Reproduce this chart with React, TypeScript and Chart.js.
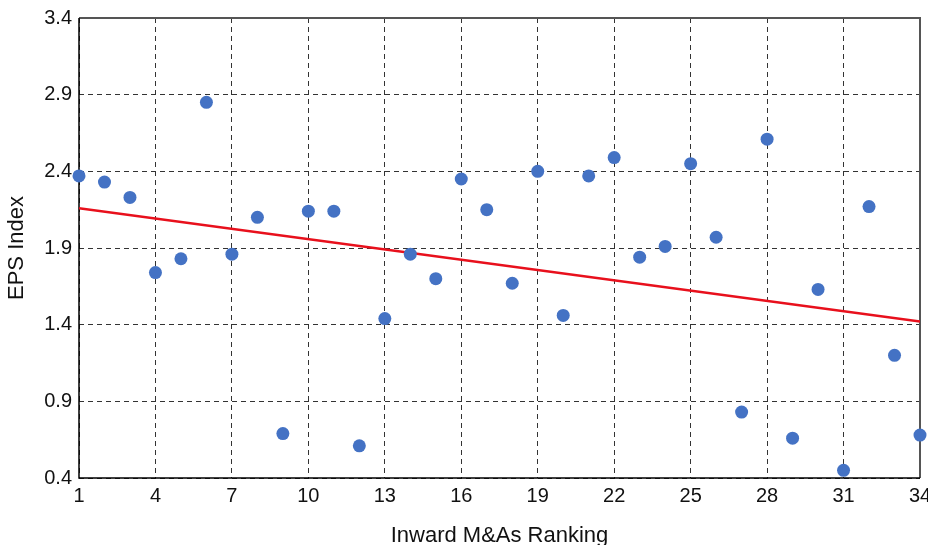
import React, { useEffect, useRef } from "react";
import { Chart, registerables } from "chart.js";

Chart.register(...registerables);

const rankings = [
  1, 2, 3, 4, 5, 6, 7, 8, 9, 10, 11, 12, 13, 14, 15, 16, 17,
  18, 19, 20, 21, 22, 23, 24, 25, 26, 27, 28, 29, 30, 31, 32, 33, 34,
];
const epsIndex = [
  2.37, 2.33, 2.23, 1.74, 1.83, 2.85, 1.86, 2.10, 0.69, 2.14, 2.14, 0.61, 1.44, 1.86, 1.70, 2.35, 2.15,
  1.67, 2.40, 1.46, 2.37, 2.49, 1.84, 1.91, 2.45, 1.97, 0.83, 2.61, 0.66, 1.63, 0.45, 2.17, 1.20, 0.68,
];
const trendX = [1, 34];
const trendY = [2.16, 1.42];
const xTicks = [1, 4, 7, 10, 13, 16, 19, 22, 25, 28, 31, 34];
const yTicks = [0.4, 0.9, 1.4, 1.9, 2.4, 2.9, 3.4];

const FONT = "'Liberation Sans', Arial, Helvetica, sans-serif";
const CANVAS_W = 928;
const CANVAS_H = 560;

const framePlugin = {
  id: "frame",
  beforeDatasetsDraw(chart: any) {
    const { ctx, chartArea } = chart;
    const { left, right, top, bottom } = chartArea;
    ctx.save();
    ctx.setLineDash([]);
    ctx.strokeStyle = "#555";
    ctx.lineWidth = 2;
    ctx.beginPath();
    ctx.moveTo(left, top);
    ctx.lineTo(right, top);
    ctx.lineTo(right, bottom);
    ctx.stroke();
    ctx.strokeStyle = "#000";
    ctx.lineWidth = 1.5;
    ctx.beginPath();
    ctx.moveTo(left, top);
    ctx.lineTo(left, bottom);
    ctx.lineTo(right, bottom);
    ctx.stroke();
    ctx.restore();
  },
};

export default function App() {
  const ref = useRef<HTMLCanvasElement | null>(null);

  useEffect(() => {
    document.body.style.margin = "0";
    const canvas = ref.current;
    if (!canvas) return;
    const chart = new Chart(canvas, {
      type: "scatter",
      data: {
        datasets: [
          {
            type: "scatter",
            label: "EPS Index",
            data: rankings.map((x, i) => ({ x, y: epsIndex[i] })),
            backgroundColor: "#4472C4",
            borderWidth: 0,
            pointRadius: 6.5,
            pointHoverRadius: 6.5,
            clip: false,
            order: 0,
          } as any,
          {
            type: "line",
            label: "Trend",
            data: trendX.map((x, i) => ({ x, y: trendY[i] })),
            borderColor: "#E8101C",
            borderWidth: 2.5,
            pointRadius: 0,
            fill: false,
            tension: 0,
            order: 1,
          } as any,
        ],
      },
      options: {
        responsive: false,
        devicePixelRatio: 1,
        animation: false,
        layout: { padding: { top: 18, right: 8, left: 0, bottom: 0 } },
        plugins: {
          legend: { display: false },
          tooltip: { enabled: false },
        },
        scales: {
          x: {
            type: "linear",
            min: 1,
            max: 34,
            afterBuildTicks: (s: any) => {
              s.ticks = xTicks.map((v) => ({ value: v }));
            },
            afterFit: (s: any) => {
              s.height = CANVAS_H - 478;
              s.paddingLeft = 0;
              s.paddingRight = 0;
            },
            grid: { color: "#333", lineWidth: 1, drawTicks: false },
            border: { display: false, dash: [5, 4] },
            ticks: {
              autoSkip: false,
              maxRotation: 0,
              padding: 6,
              color: "#111",
              font: { family: FONT, size: 20 },
              callback: (v: any) => String(v),
            },
            title: {
              display: true,
              text: "Inward M&As Ranking",
              color: "#111",
              font: { family: FONT, size: 22 },
              padding: { top: 0, bottom: 11 },
            },
          },
          y: {
            type: "linear",
            min: 0.4,
            max: 3.4,
            afterBuildTicks: (s: any) => {
              s.ticks = yTicks.map((v) => ({ value: v }));
            },
            afterFit: (s: any) => {
              s.width = 79;
              s.paddingTop = 0;
              s.paddingBottom = 0;
            },
            grid: { color: "#333", lineWidth: 1, drawTicks: false },
            border: { display: false, dash: [5, 4] },
            ticks: {
              padding: 7,
              color: "#111",
              font: { family: FONT, size: 20 },
              callback: (v: any) => Number(v).toFixed(1),
            },
            title: {
              display: true,
              text: "EPS Index",
              color: "#111",
              font: { family: FONT, size: 22 },
              padding: { top: 4, bottom: 0 },
            },
          },
        },
      },
      plugins: [framePlugin],
    });
    return () => chart.destroy();
  }, []);

  return (
    <div
      style={{
        position: "absolute",
        left: 0,
        top: 0,
        width: CANVAS_W,
        height: 545,
        overflow: "hidden",
        background: "#fff",
      }}
    >
      <canvas
        ref={ref}
        width={CANVAS_W}
        height={CANVAS_H}
        style={{ width: CANVAS_W, height: CANVAS_H, display: "block" }}
      />
    </div>
  );
}
